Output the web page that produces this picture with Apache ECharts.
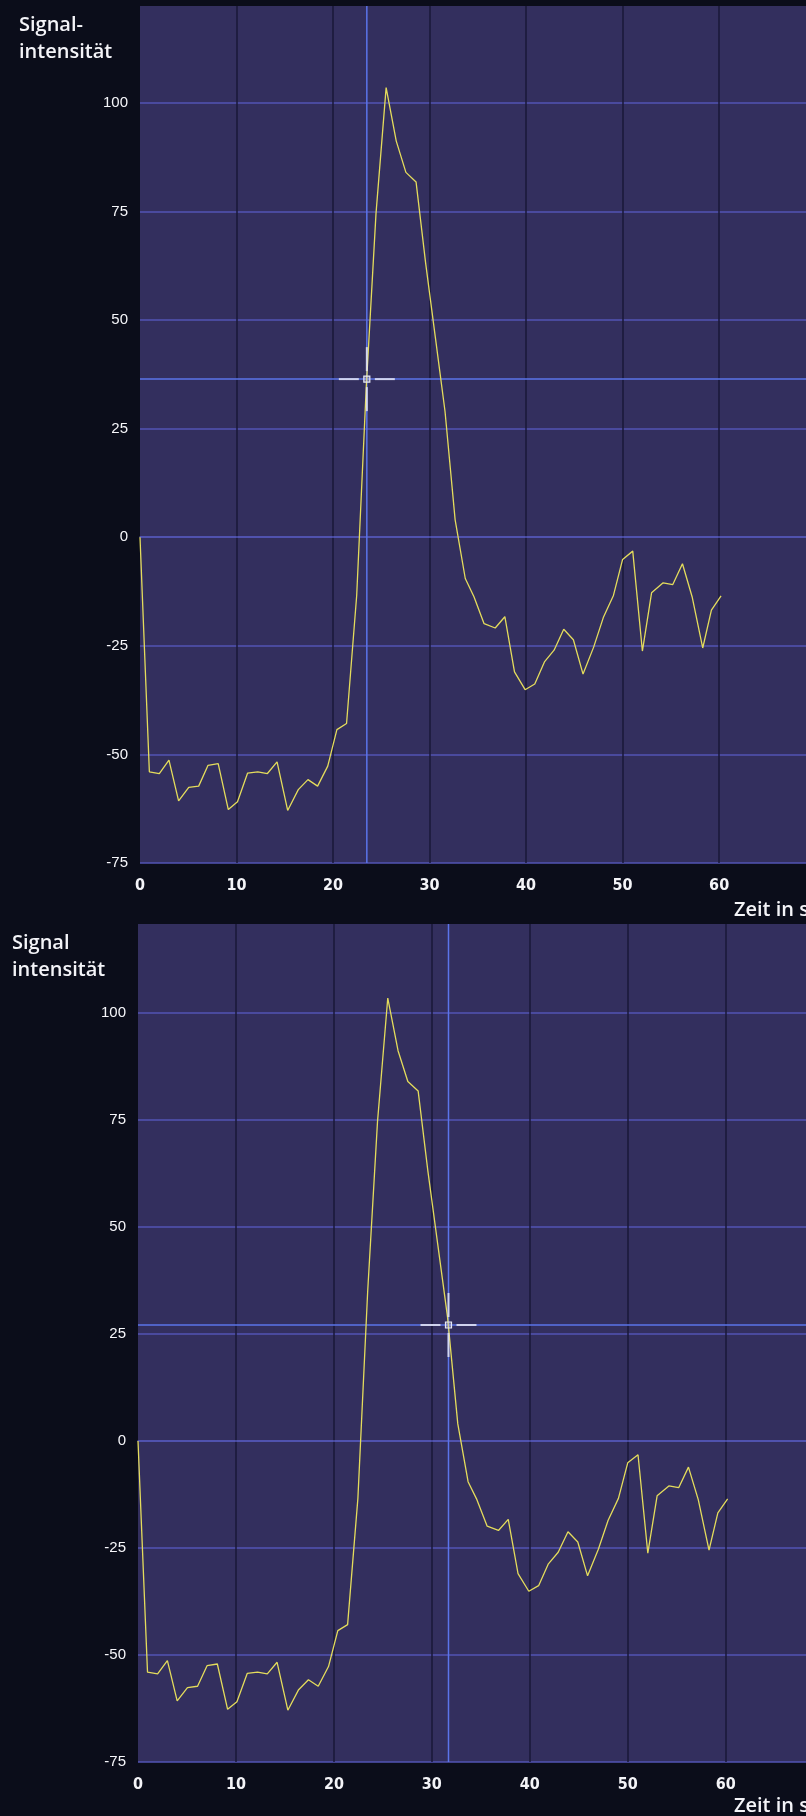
<!DOCTYPE html>
<html>
<head>
<meta charset="utf-8">
<script src="https://cdn.jsdelivr.net/npm/echarts@6/dist/echarts.min.js"></script>
<style>
html,body{margin:0;padding:0;background:#0b0d1a;}
#chart{width:806px;height:1816px;}
</style>
</head>
<body>
<div id="chart"></div>
<script>
// Time (s) and signal values
const timeValues = [0, 0.97, 2.0, 3.0, 4.0, 5.05, 6.08, 7.05, 8.1, 9.15, 10.1, 11.15, 12.2, 13.2, 14.2, 15.3, 16.4, 17.4, 18.4, 19.45, 20.4, 21.4, 22.45, 23.45, 24.45, 25.5, 26.55, 27.55, 28.6, 29.6, 30.6, 31.6, 32.65, 33.7, 34.6, 35.65, 36.8, 37.8, 38.8, 39.9, 40.9, 41.9, 42.9, 43.9, 44.9, 45.9, 47.0, 48.0, 49.05, 50.0, 51.05, 52.05, 53.0, 54.2, 55.2, 56.2, 57.2, 58.3, 59.2, 60.2];
const signalValues = [0, -54.0, -54.4, -51.3, -60.7, -57.6, -57.3, -52.5, -52.1, -62.7, -60.9, -54.3, -54.0, -54.4, -51.7, -62.9, -58.1, -55.8, -57.3, -52.7, -44.3, -42.9, -13.4, 35, 74.5, 103.5, 91.2, 84.0, 81.8, 63, 46, 29, 4, -9.5, -13.7, -19.9, -20.9, -18.3, -31.0, -35.1, -33.8, -28.7, -26.0, -21.2, -23.6, -31.5, -25.3, -18.5, -13.4, -5.1, -3.2, -26.2, -12.8, -10.5, -10.9, -6.1, -13.7, -25.5, -16.8, -13.5];
// Cursor positions [time, signal] for the two panels
const cursorTop = [23.5, 36.4];
const cursorBottom = [31.7, 27.1];
// Axis settings
const yMin = -75, yInterval = 25;
const xMin = 0, xInterval = 10;
const yMaxTop = 122.3, yMaxBottom = 120.8;
const xMaxTop = 69.0, xMaxBottom = 68.2;
const yTitleTop = 'Signal-\nintensität';
const yTitleBottom = 'Signal\nintensität';
const xTitle = 'Zeit in s';

const lineData = timeValues.map((t, i) => [t, signalValues[i]]);

const GRID_H = '#5355b4';
const GRID_V = '#1a1838';
const CROSS = '#5b74ea';
const RETICLE = '#e6e8f4';

function fmtTick(step) {
  return v => (Math.abs(v / step - Math.round(v / step)) < 1e-6 ? String(v) : '');
}

function xAxisDef(idx, max) {
  return {
    type: 'value', gridIndex: idx, min: xMin, max: max, interval: xInterval,
    axisLine: {show: true, lineStyle: {color: GRID_H, width: 1.5}},
    axisTick: {show: false},
    axisLabel: {color: '#f4f4f8', fontFamily: '"Liberation Sans Narrow","DejaVu Sans Condensed",sans-serif',
      fontWeight: 'bold', fontSize: 16, margin: 15, showMaxLabel: false, formatter: fmtTick(xInterval)},
    splitLine: {show: true, showMinLine: false, showMaxLine: false, lineStyle: {color: GRID_V, width: 1.5}}
  };
}
function yAxisDef(idx, max) {
  return {
    type: 'value', gridIndex: idx, min: yMin, max: max, interval: yInterval,
    axisLine: {show: false}, axisTick: {show: false},
    axisLabel: {color: '#f6f6fa', fontFamily: '"Liberation Sans", Arial, sans-serif', fontSize: 15,
      margin: 12, showMaxLabel: false, formatter: fmtTick(yInterval)},
    splitLine: {show: true, showMinLine: true, showMaxLine: false, lineStyle: {color: GRID_H, width: 1.5}}
  };
}

function crossLines(idx, cursor) {
  return {
    type: 'custom', xAxisIndex: idx, yAxisIndex: idx, z: 1, silent: true,
    data: [cursor],
    renderItem: function (params, api) {
      const p = api.coord([api.value(0), api.value(1)]);
      const cs = params.coordSys;
      return {type: 'group', children: [
        {type: 'line', shape: {x1: p[0], y1: cs.y, x2: p[0], y2: cs.y + cs.height}, style: {stroke: CROSS, lineWidth: 1.5}},
        {type: 'line', shape: {x1: cs.x, y1: p[1], x2: cs.x + cs.width, y2: p[1]}, style: {stroke: CROSS, lineWidth: 1.5}}
      ]};
    }
  };
}
function reticle(idx, cursor) {
  return {
    type: 'custom', xAxisIndex: idx, yAxisIndex: idx, z: 5, silent: true,
    data: [cursor],
    renderItem: function (params, api) {
      const p = api.coord([api.value(0), api.value(1)]);
      const st = {stroke: RETICLE, lineWidth: 2, opacity: 0.85};
      return {type: 'group', children: [
        {type: 'line', shape: {x1: p[0] - 28, y1: p[1], x2: p[0] - 8, y2: p[1]}, style: st},
        {type: 'line', shape: {x1: p[0] + 8, y1: p[1], x2: p[0] + 28, y2: p[1]}, style: st},
        {type: 'line', shape: {x1: p[0], y1: p[1] - 32, x2: p[0], y2: p[1] - 8}, style: st},
        {type: 'line', shape: {x1: p[0], y1: p[1] + 8, x2: p[0], y2: p[1] + 32}, style: st},
        {type: 'rect', shape: {x: p[0] - 3, y: p[1] - 3, width: 6, height: 6}, style: {stroke: RETICLE, lineWidth: 1.2, fill: 'rgba(200,200,230,0.4)'}}
      ]};
    }
  };
}
function lineSeries(idx) {
  return {
    type: 'line', xAxisIndex: idx, yAxisIndex: idx, z: 3, data: lineData,
    showSymbol: false, symbol: 'none', smooth: false, silent: true,
    lineStyle: {color: '#e4dc5c', width: 1.3}
  };
}

const titleFont = {fill: '#f4f4f8', fontFamily: '"Open Sans","Noto Sans",sans-serif', fontWeight: 600, fontSize: 20, lineHeight: 27};

const chart = echarts.init(document.getElementById('chart'), null, {renderer: 'canvas'});
chart.setOption({
  backgroundColor: '#0b0d1a',
  animation: false,
  grid: [
    {left: 140, right: 0, top: 6, bottom: 953, show: true, backgroundColor: '#332f5e', borderWidth: 0},
    {left: 138, right: 0, top: 924, bottom: 54, show: true, backgroundColor: '#332f5e', borderWidth: 0}
  ],
  xAxis: [xAxisDef(0, xMaxTop), xAxisDef(1, xMaxBottom)],
  yAxis: [yAxisDef(0, yMaxTop), yAxisDef(1, yMaxBottom)],
  series: [
    crossLines(0, cursorTop), lineSeries(0), reticle(0, cursorTop),
    crossLines(1, cursorBottom), lineSeries(1), reticle(1, cursorBottom)
  ],
  graphic: [
    {type: 'text', left: 19, top: 12, style: Object.assign({text: yTitleTop}, titleFont)},
    {type: 'text', left: 12, top: 930, style: Object.assign({text: yTitleBottom}, titleFont)},
    {type: 'text', left: 734, top: 897, style: Object.assign({text: xTitle}, titleFont)},
    {type: 'text', left: 734, top: 1793, style: Object.assign({text: xTitle}, titleFont)}
  ]
});
</script>
</body>
</html>
